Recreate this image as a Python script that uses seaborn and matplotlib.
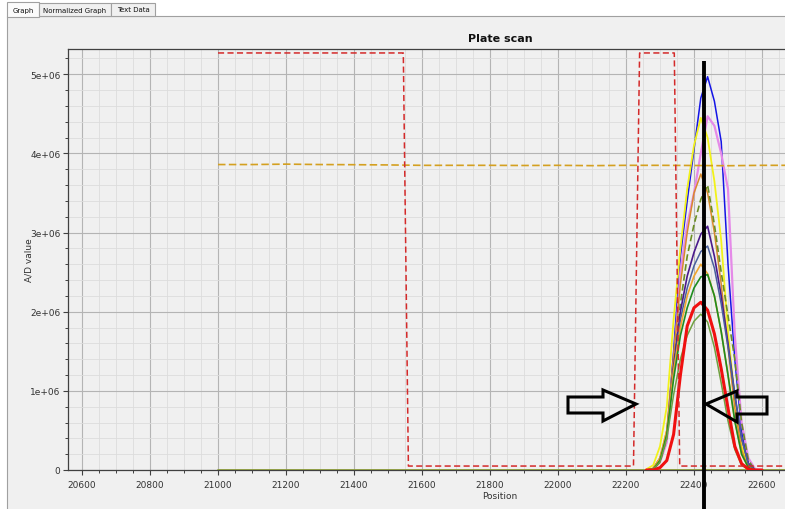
import matplotlib
matplotlib.use("Agg")
import matplotlib.pyplot as plt
import seaborn as sns
import pandas as pd
from matplotlib.patches import Polygon, Rectangle
from matplotlib.ticker import MultipleLocator, FixedLocator, FixedFormatter

# ---------------- data (A/D values in millions) ----------------
PEAK_X = [22260, 22280, 22300, 22320, 22340, 22360, 22380, 22400, 22420,
          22440, 22460, 22480, 22500, 22520, 22540, 22560, 22580, 22600]
BLUE_M = [0, .02, .15, .45, 1.5, 2.7, 3.4, 4.05, 4.7, 4.97, 4.66, 4.15, 2.6, 1.4, .5, .08, 0, 0]
VIOLET_M = [0, .01, .1, .35, 1.3, 2.5, 3.1, 3.5, 4.0, 4.47, 4.35, 4.0, 3.55, 1.7, .6, .15, .01, 0]
YELLOW_M = [.01, .06, .3, .8, 1.9, 2.8, 3.55, 4.1, 4.45, 4.2, 3.65, 2.9, 1.75, .9, .3, .05, 0, 0]
ORANGE_M = [0, .02, .15, .5, 1.45, 2.35, 3.0, 3.5, 3.74, 3.5, 3.0, 2.35, 1.55, .78, .25, .03, 0, 0]
GREENDASH_M = [0, .01, .1, .4, 1.3, 2.1, 2.7, 3.1, 3.42, 3.6, 3.1, 2.5, 1.95, 1.4, .6, .12, 0, 0]
INDIGO_M = [0, .01, .12, .45, 1.3, 2.0, 2.45, 2.75, 2.98, 3.08, 2.7, 2.2, 1.6, .95, .4, .08, 0, 0]
STEEL_M = [0, .01, .12, .45, 1.25, 1.9, 2.3, 2.58, 2.76, 2.83, 2.55, 2.1, 1.55, .95, .4, .07, 0, 0]
GOLD_M = [0, .02, .15, .5, 1.25, 1.8, 2.2, 2.45, 2.6, 2.48, 2.2, 1.75, 1.2, .62, .2, .03, 0, 0]
GREEN_M = [0, .01, .12, .45, 1.15, 1.7, 2.05, 2.3, 2.44, 2.47, 2.2, 1.75, 1.2, .62, .2, .03, 0, 0]
OLIVE_M = [0, .01, .1, .4, .95, 1.4, 1.7, 1.88, 1.97, 1.87, 1.55, 1.1, .62, .26, .06, .01, 0, 0]
RED_M = [0, 0, .03, .12, .45, 1.2, 1.82, 2.05, 2.12, 2.02, 1.72, 1.28, .78, .3, .08, .01, 0, 0]

BASE_X = [21000, 22680]
BASE_M = [0, 0]

GATE_X = [21000, 21545, 21560, 22222, 22240, 22342, 22358, 22680]
GATE_M = [5.27, 5.27, 0.05, 0.05, 5.27, 5.27, 0.05, 0.05]

LEVEL_X = [21000, 21100, 21200, 21300, 21400, 21500, 21600, 21700, 21800, 21900,
           22000, 22100, 22200, 22300, 22400, 22500, 22600, 22680]
LEVEL_M = [3.86, 3.86, 3.865, 3.86, 3.858, 3.855, 3.85, 3.85, 3.85, 3.848,
           3.85, 3.846, 3.85, 3.85, 3.848, 3.845, 3.85, 3.85]

CURSOR_X = 22430
CURSOR_TOP_M = 5.17

XTICKS = list(range(20600, 22601, 200))
XTICK_LABELS = [str(v) for v in XTICKS]
YTICKS_M = [0, 1, 2, 3, 4, 5]
YTICK_LABELS = ["0", "1e+06", "2e+06", "3e+06", "4e+06", "5e+06"]

TABS = ["Graph", "Normalized Graph", "Text Data"]

SERIES = [
    ("blue", BLUE_M, "#1414e6", 1.1, "-"),
    ("violet", VIOLET_M, "#e58ae8", 1.6, "-"),
    ("yellow", YELLOW_M, "#f2f21a", 1.3, "-"),
    ("orange", ORANGE_M, "#d98a2b", 1.1, "-"),
    ("greendash", GREENDASH_M, "#6b8e23", 1.2, (0, (4, 2))),
    ("indigo", INDIGO_M, "#4b1a8c", 1.2, "-"),
    ("steel", STEEL_M, "#4a5f9e", 1.1, "-"),
    ("gold", GOLD_M, "#f0a630", 1.2, "-"),
    ("green", GREEN_M, "#1f8c1f", 1.2, "-"),
    ("olive", OLIVE_M, "#6fa040", 1.1, "-"),
    ("red", RED_M, "#f01010", 2.2, "-"),
]

# ---------------- style ----------------
sns.set_style("ticks")
plt.rcParams["font.family"] = ["DejaVu Sans"]

W, H = 785, 510
fig = plt.figure(figsize=(W / 100, H / 100), dpi=100, facecolor="white")


def fx(px):
    return px / W


def fy(py):
    return 1 - py / H


# panel & tabs (UI frame)
fig.add_artist(Rectangle((fx(7), fy(520)), fx(800) - fx(7), fy(17) - fy(520),
                         transform=fig.transFigure, facecolor="#f0f0f0",
                         edgecolor="#a0a0a0", lw=0.8, zorder=0))
tab_bounds = [(7, 39), (39, 111), (111, 155)]
for i, (name, (x0, x1)) in enumerate(zip(TABS, tab_bounds)):
    top = 3 if i == 0 else 4
    bottom = 18 if i == 0 else 17
    fig.add_artist(Rectangle((fx(x0), fy(bottom)), fx(x1) - fx(x0), fy(top) - fy(bottom),
                             transform=fig.transFigure,
                             facecolor="#fbfbfb" if i == 0 else "#f0f0f0",
                             edgecolor="#a0a0a0", lw=0.8, zorder=1))
    fig.text(fx((x0 + x1) / 2), fy(10.5), name, ha="center", va="center",
             fontsize=5, color="#111111", zorder=2)

# axes: left 68px, top 50px, bottom 471px; extends past the right edge
ax_left, ax_right, ax_top, ax_bottom = 68, 932, 50, 471
ax = fig.add_axes([fx(ax_left), fy(ax_bottom), fx(ax_right) - fx(ax_left),
                   fy(ax_top) - fy(ax_bottom)])
ax.set_facecolor("#f0f0f0")

d_base = pd.DataFrame({"Position": BASE_X, "value": [v * 1e6 for v in BASE_M]})
sns.lineplot(data=d_base, x="Position", y="value", ax=ax, color="#8a9a3a", lw=1.3,
             sort=False, estimator=None, zorder=3)

for name, vals, color, lw, ls in SERIES:
    d = pd.DataFrame({"Position": PEAK_X, "value": [v * 1e6 for v in vals]})
    sns.lineplot(data=d, x="Position", y="value", ax=ax, color=color, lw=lw,
                 linestyle=ls, sort=False, estimator=None, zorder=3)

d_level = pd.DataFrame({"Position": LEVEL_X, "value": [v * 1e6 for v in LEVEL_M]})
sns.lineplot(data=d_level, x="Position", y="value", ax=ax, color="#d4a020", lw=1.2,
             linestyle=(0, (4.5, 2)), sort=False, estimator=None, zorder=3)

d_gate = pd.DataFrame({"Position": GATE_X, "value": [v * 1e6 for v in GATE_M]})
sns.lineplot(data=d_gate, x="Position", y="value", ax=ax, color="#d42a2a", lw=1.1,
             linestyle=(0, (4, 2.2)), sort=False, estimator=None, zorder=3)

ax.plot([CURSOR_X, CURSOR_X], [CURSOR_TOP_M * 1e6, -0.7e6], color="black", lw=2.8,
        clip_on=False, zorder=6, solid_capstyle="butt")

# scales
ax.set_xlim(20600 - (82 - ax_left) / 0.34, 20600 + (ax_right - 82) / 0.34)
ax.set_ylim(0, 5.32e6)
ax.xaxis.set_major_locator(FixedLocator(XTICKS))
ax.xaxis.set_major_formatter(FixedFormatter(XTICK_LABELS))
ax.xaxis.set_minor_locator(MultipleLocator(50))
ax.yaxis.set_major_locator(FixedLocator([v * 1e6 for v in YTICKS_M]))
ax.yaxis.set_major_formatter(FixedFormatter(YTICK_LABELS))
ax.yaxis.set_minor_locator(MultipleLocator(2e5))

ax.grid(which="major", color="#b4b4b4", lw=0.8)
ax.grid(which="minor", color="#dcdcdc", lw=0.6)
# major gridlines beyond the labelled range (visible part of the plot)
for gx in (22800, 23000):
    ax.axvline(gx, color="#b4b4b4", lw=0.8, zorder=0.5)
ax.set_axisbelow(True)

for s in ["left", "bottom", "top"]:
    ax.spines[s].set_color("#404040")
    ax.spines[s].set_linewidth(0.9)
ax.spines["right"].set_visible(False)

ax.tick_params(which="major", direction="out", length=3.5, width=0.8, color="#404040",
               labelsize=6.5, labelcolor="#333333", pad=2)
ax.tick_params(which="minor", direction="out", length=2.2, width=0.7, color="#404040")
ax.tick_params(axis="x", which="major", pad=4)

ax.set_xlabel("Position", fontsize=6.5, color="#333333")
ax.set_ylabel("A/D value", fontsize=6.5, color="#333333")
ax.xaxis.set_label_coords(0.5, -(492 - ax_bottom) / (ax_bottom - ax_top))
ax.yaxis.set_label_coords(-(ax_left - 33) / (ax_right - ax_left), 0.5)
ax.set_title("Plate scan", fontsize=8, fontweight="bold", color="#111111", pad=6)

# hollow arrows (figure pixel coordinates)
left_arrow = [(568, 398), (603, 398), (603, 391), (636, 405), (603, 422), (603, 414), (568, 414)]
right_arrow = [(767, 398), (737, 398), (737, 392), (706, 405), (737, 423), (737, 415), (767, 415)]
for pts in (left_arrow, right_arrow):
    fig.add_artist(Polygon([(fx(x), fy(y)) for x, y in pts], closed=True, fill=False,
                           edgecolor="black", lw=2.2, joinstyle="miter",
                           transform=fig.transFigure, zorder=7))

fig.savefig("out.png", dpi=100, facecolor=fig.get_facecolor())
